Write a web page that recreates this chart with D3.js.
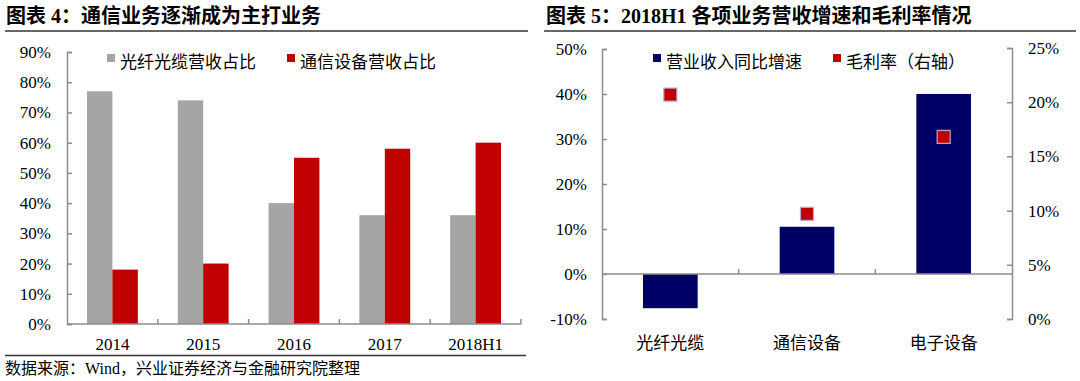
<!DOCTYPE html>
<html>
<head>
<meta charset="utf-8">
<script src="https://cdn.jsdelivr.net/npm/d3@7"></script>
<style>
  body{margin:0;background:#fff;}
  svg text{font-family:"Liberation Serif","Noto Sans CJK SC",serif;fill:#000;}
</style>
</head>
<body>
<svg id="chart" width="1080" height="381"></svg>
<script>
// ---------- DATA ----------------------------------------------------------
const years      = ['2014','2015','2016','2017','2018H1'];
const fiberShare = [77, 74, 40, 36, 36];     // 光纤光缆营收占比 %
const commShare  = [18, 20, 55, 58, 60];     // 通信设备营收占比 %
const segments   = ['光纤光缆','通信设备','电子设备'];
const growth     = [-7.6, 10.5, 40];         // 营业收入同比增速 %
const margin     = [20.7, 9.7, 16.8];        // 毛利率 % (right axis)
const leftTicks  = [0,10,20,30,40,50,60,70,80,90];
const rTicksL    = [-10,0,10,20,30,40,50];
const rTicksR    = [0,5,10,15,20,25];

// ---------- CONSTANTS -----------------------------------------------------
const C = {gray:'#a5a5a5', red:'#c00000', navy:'#000066', axis:'#8c8c8c'};
const CJK = '"Noto Sans CJK SC",sans-serif';
const svg = d3.select('#chart');

// titles, rules, source
svg.append('text').attr('x',6).attr('y',23).attr('font-size',20).attr('font-weight','bold')
   .text('图表 4：通信业务逐渐成为主打业务');
svg.append('text').attr('x',546).attr('y',23).attr('font-size',20).attr('font-weight','bold')
   .text('图表 5：2018H1 各项业务营收增速和毛利率情况');
[[5,528],[544,1076]].forEach(([a,b])=>svg.append('line').attr('x1',a).attr('x2',b)
   .attr('y1',31).attr('y2',31).attr('stroke','#333').attr('stroke-width',1.3));
svg.append('line').attr('x1',5).attr('x2',526).attr('y1',355.5).attr('y2',355.5)
   .attr('stroke','#333').attr('stroke-width',1.3);
svg.append('text').attr('x',5).attr('y',374).attr('font-size',16)
   .text('数据来源：Wind，兴业证券经济与金融研究院整理');

function styleAxis(g){
  g.attr('font-size',17).attr('font-family','"Liberation Serif",serif');
  g.selectAll('path,line').attr('stroke',C.axis).attr('stroke-width',1.5);
  g.selectAll('text').attr('fill','#000');
}
function legend(x,y,color,label,size){
  svg.append('rect').attr('x',x).attr('y',y-4).attr('width',size).attr('height',size).attr('fill',color);
  svg.append('text').attr('x',x+size+5).attr('y',y+size/2+1).attr('font-size',17)
     .attr('dominant-baseline','middle').style('font-family',CJK).text(label);
}

// ---------- LEFT PANEL ----------------------------------------------------
{
  const x = d3.scaleBand().domain(years).range([67,521]).paddingInner(0.44).paddingOuter(0.22);
  const xs = d3.scaleBand().domain(['f','c']).range([0,x.bandwidth()]);
  const y = d3.scaleLinear().domain([0,90]).range([324,52]);
  const g = svg.append('g');

  years.forEach((yr,i)=>{
    g.append('rect').attr('x',x(yr)+xs('f')).attr('width',xs.bandwidth())
     .attr('y',y(fiberShare[i])).attr('height',y(0)-y(fiberShare[i])).attr('fill',C.gray);
    g.append('rect').attr('x',x(yr)+xs('c')).attr('width',xs.bandwidth())
     .attr('y',y(commShare[i])).attr('height',y(0)-y(commShare[i])).attr('fill',C.red);
    g.append('text').attr('x',x(yr)+x.bandwidth()/2).attr('y',350).attr('font-size',17)
     .attr('text-anchor','middle').text(yr);
  });

  const ya = g.append('g').attr('transform','translate(67,0)')
    .call(d3.axisLeft(y).tickValues(leftTicks).tickFormat(d=>d+'%').tickSize(-5).tickPadding(16));
  styleAxis(ya);

  // category axis with boundary ticks pointing up
  const step = x.step();
  g.append('line').attr('x1',67).attr('x2',521).attr('y1',y(0)).attr('y2',y(0))
   .attr('stroke',C.axis).attr('stroke-width',1.5);
  d3.range(1,years.length+1).forEach(i=>{
    const bx = 67+step*i;
    g.append('line').attr('x1',bx).attr('x2',bx).attr('y1',y(0)).attr('y2',y(0)-5)
     .attr('stroke',C.axis).attr('stroke-width',1.5);
  });

  legend(107,58,C.gray,'光纤光缆营收占比',8);
  legend(287,58,C.red,'通信设备营收占比',8);
}

// ---------- RIGHT PANEL ---------------------------------------------------
{
  const x = d3.scaleBand().domain(segments).range([602,1012]).paddingInner(0.6).paddingOuter(0.3);
  const yL = d3.scaleLinear().domain([-10,50]).range([319,49]);
  const yR = d3.scaleLinear().domain([0,25]).range([319,48]);
  const g = svg.append('g');

  segments.forEach((s,i)=>{
    const v = growth[i];
    g.append('rect').attr('x',x(s)).attr('width',x.bandwidth())
     .attr('y',yL(Math.max(0,v))).attr('height',Math.abs(yL(v)-yL(0))).attr('fill',C.navy);
    g.append('text').attr('x',x(s)+x.bandwidth()/2).attr('y',349).attr('font-size',17)
     .attr('text-anchor','middle').style('font-family',CJK).text(s);
  });

  const step = x.step();
  g.append('line').attr('x1',602).attr('x2',1012).attr('y1',yL(0)).attr('y2',yL(0))
   .attr('stroke',C.axis).attr('stroke-width',1.5);
  d3.range(1,segments.length).forEach(i=>{
    const bx = 602+step*i;
    g.append('line').attr('x1',bx).attr('x2',bx).attr('y1',yL(0)).attr('y2',yL(0)-5)
     .attr('stroke',C.axis).attr('stroke-width',1.5);
  });

  // margin markers
  segments.forEach((s,i)=>{
    const cx = x(s)+x.bandwidth()/2, cy = yR(margin[i]);
    g.append('rect').attr('x',cx-6.5).attr('y',cy-6.5).attr('width',13).attr('height',13)
     .attr('fill',C.red).attr('stroke','#b3a9c9').attr('stroke-width',1.2);
  });

  const la = g.append('g').attr('transform','translate(602,0)')
    .call(d3.axisLeft(yL).tickValues(rTicksL).tickFormat(d=>d+'%').tickSize(-5).tickPadding(15));
  styleAxis(la);
  const ra = g.append('g').attr('transform','translate(1012,0)')
    .call(d3.axisRight(yR).tickValues(rTicksR).tickFormat(d=>d+'%').tickSize(-5).tickPadding(16));
  styleAxis(ra);

  legend(653,58,C.navy,'营业收入同比增速',8);
  legend(833,58,C.red,'毛利率（右轴）',8);
}
</script>
</body>
</html>
